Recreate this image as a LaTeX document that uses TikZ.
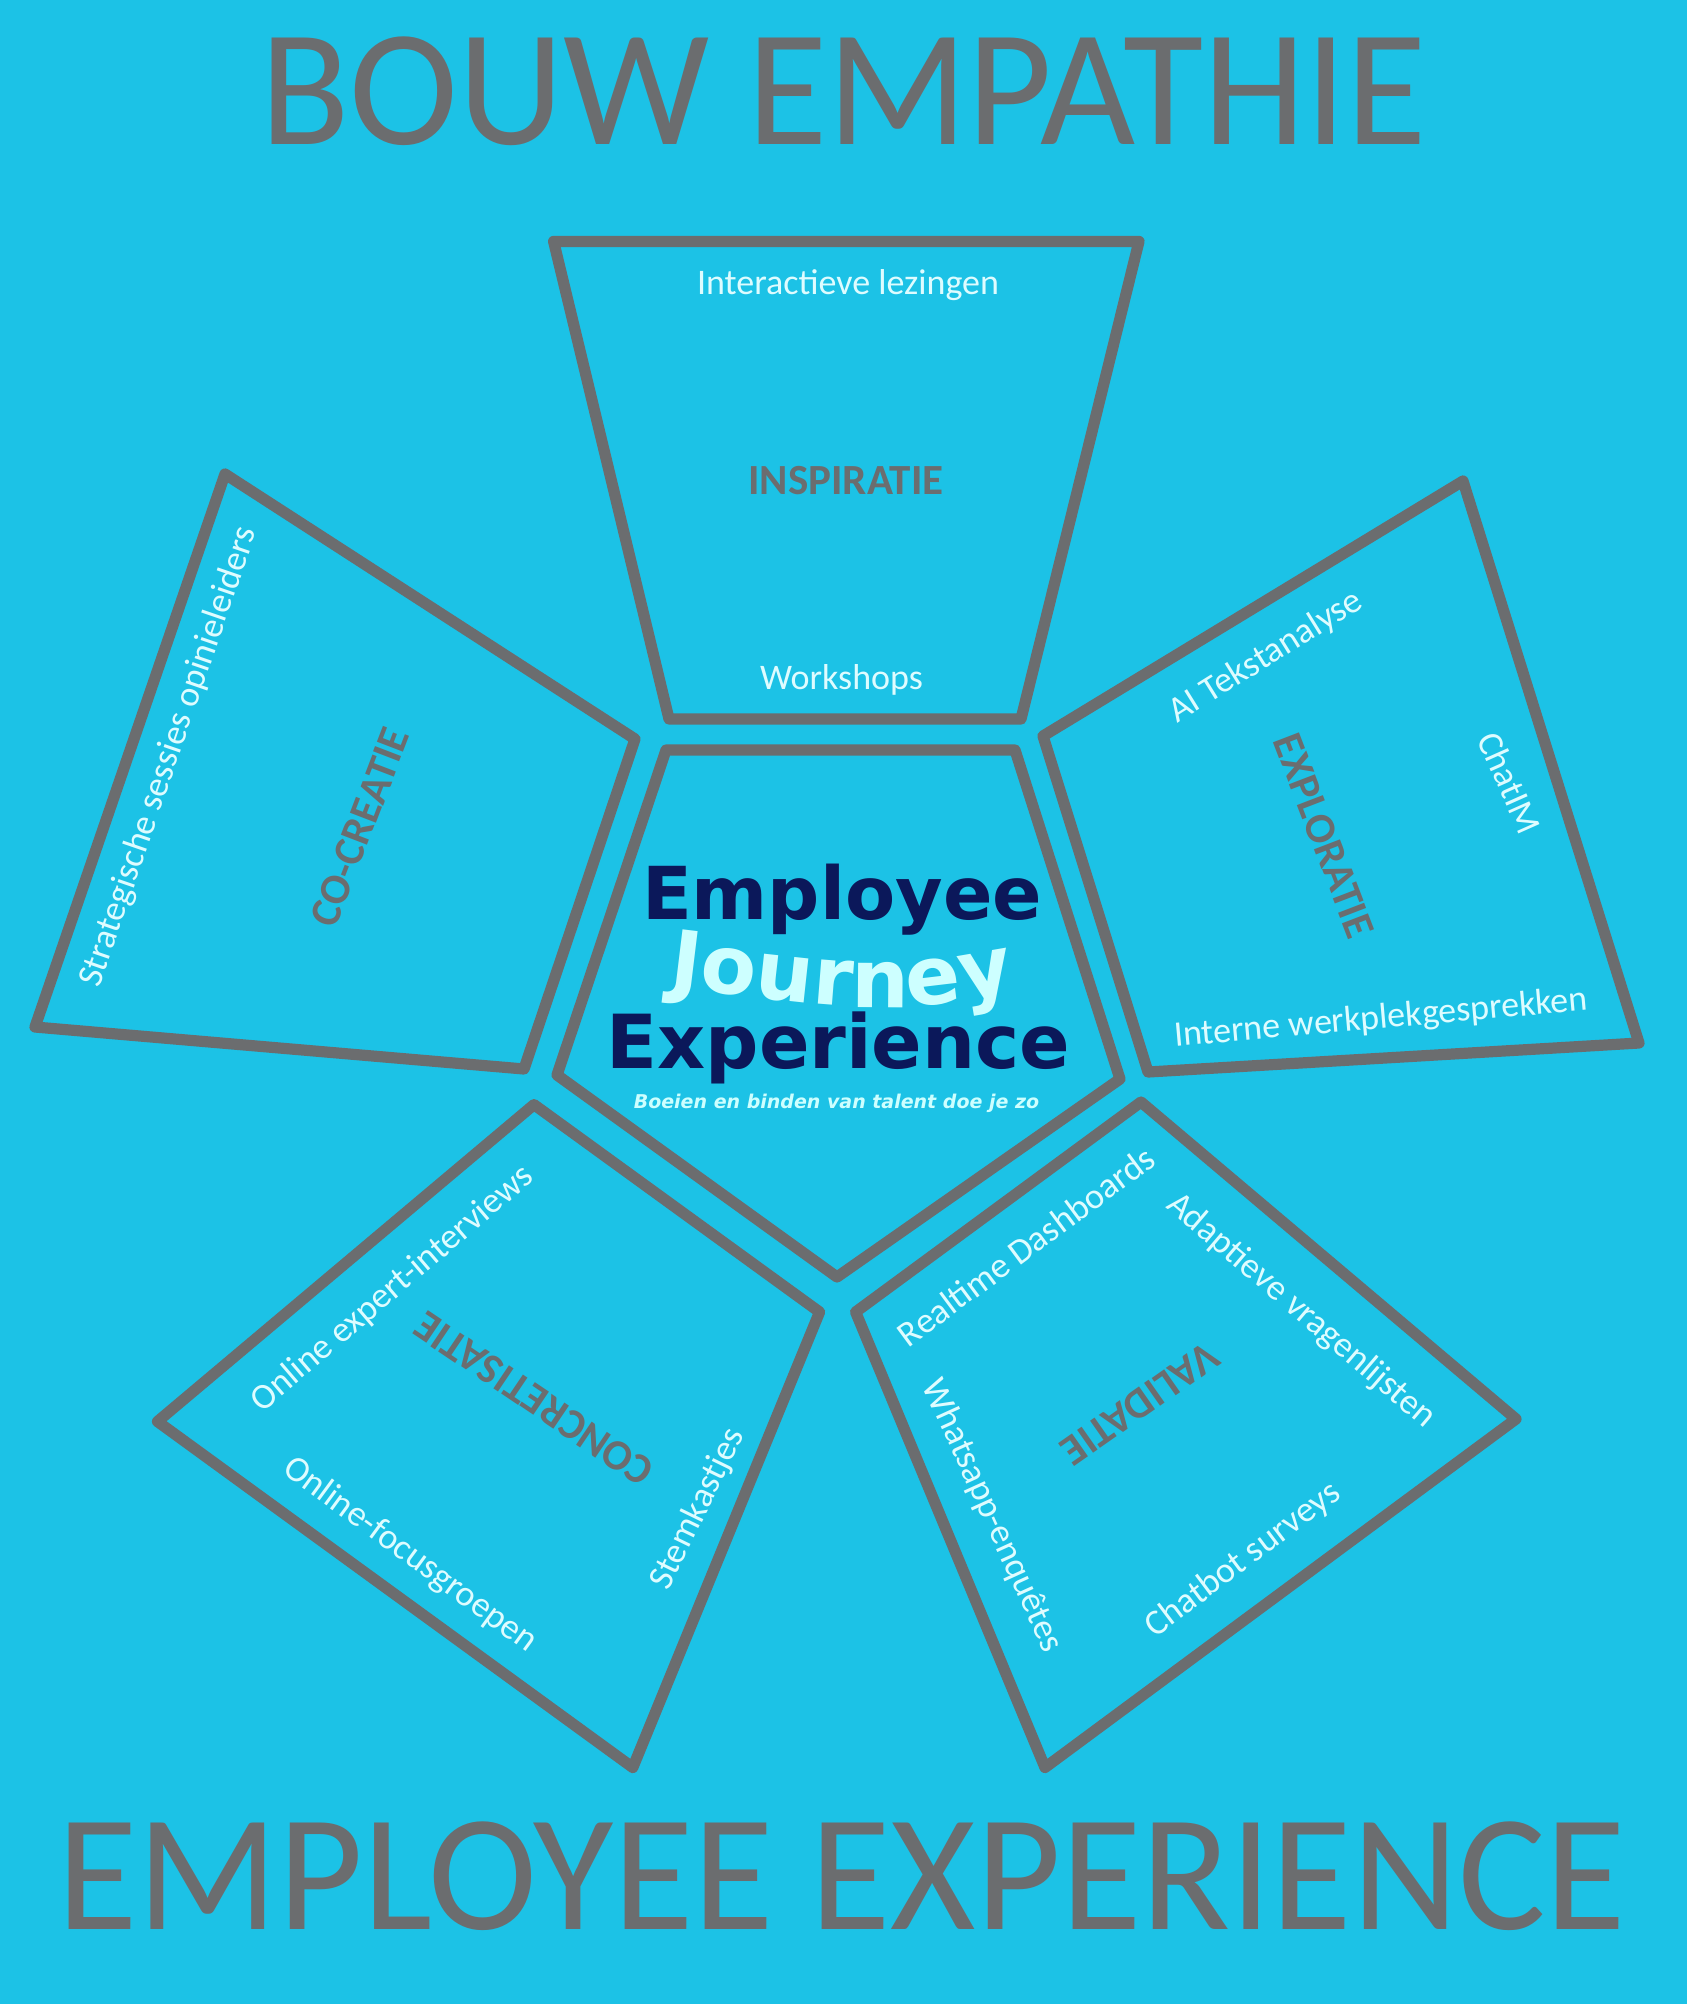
\documentclass[tikz,border=0pt]{standalone}
\usepackage{fontspec}
\usetikzlibrary{decorations.text}
\newfontfamily\calfont{Carlito}
\newfontfamily\dvfont{DejaVu Sans}
\definecolor{bgblue}{RGB}{28,194,230}
\definecolor{lgrey}{RGB}{107,109,111}
\definecolor{navy}{RGB}{11,24,90}
\definecolor{jcyan}{RGB}{205,255,255}
\definecolor{wtext}{RGB}{222,252,255}
\begin{document}
\begin{tikzpicture}[x=0.5pt,y=-0.5pt,
  panel/.style={draw=lgrey, line width=5.6pt, line join=round},
  item/.style={text=wtext, font=\calfont\fontsize{18}{20}\selectfont, inner sep=0pt},
  phase/.style={text=lgrey, font=\calfont\bfseries\fontsize{21.5}{24}\selectfont, inner sep=0pt},
  bigtitle/.style={text=lgrey, font=\calfont\fontsize{83}{90}\selectfont, inner sep=0pt, anchor=base},
  core/.style={text=navy, font=\dvfont\bfseries\fontsize{36.5}{40}\selectfont, inner sep=0pt, anchor=base}]
\fill[bgblue] (0,0) rectangle (1687,2004);
\useasboundingbox (0,0) rectangle (1687,2004);

% titles
\node[bigtitle, xscale=0.99] (t1) at (843.5,144) {BOUW EMPATHIE};
\node[bigtitle, xscale=0.99] (t2) at (842,1929) {EMPLOYEE EXPERIENCE};

% panels
\draw[panel] (553.6,241.4) -- (1139,241.4) -- (1021,719) -- (669,719) -- cycle;
\draw[panel] (225,474) -- (635,739) -- (524,1069) -- (35,1027) -- cycle;
\draw[panel] (1463,481) -- (1639,1043) -- (1148,1072) -- (1043,736) -- cycle;
\draw[panel] (534,1104.6) -- (819.6,1312) -- (632.8,1767.5) -- (157.5,1421.5) -- cycle;
\draw[panel] (1141,1102) -- (1516,1419) -- (1045,1767.5) -- (855.6,1312) -- cycle;
\draw[panel] (666,750) -- (1015,750) -- (1120,1079) -- (837,1277) -- (557,1075) -- cycle;

% INSPIRATIE
\node[item] (i1) at (848,285) {Interactieve lezingen};
\node[phase] (p1) at (846,481) {INSPIRATIE};
\node[item] (i2) at (841.5,680) {Workshops};

% CO-CREATIE
\node[item, rotate=71] (c1) at (169,757) {Strategische sessies opinieleiders};
\node[phase, rotate=69] (p2) at (360,827) {CO-CREATIE};

% EXPLORATIE
\node[item, rotate=32] (e1) at (1266,657) {AI Tekstanalyse};
\node[phase, rotate=-69] (p3) at (1324,836) {EXPLORATIE};
\node[item, rotate=-66] (e2) at (1510,783) {ChatIM};
\node[item, rotate=5] (e3) at (1381,1019) {Interne werkplekgesprekken};

% CONCRETISATIE
\node[item, rotate=40.5] (k1) at (392.6,1289) {Online expert-interviews};
\node[item, rotate=-36.3] (k2) at (410,1555) {Online-focusgroepen};
\node[phase, rotate=146] (p4) at (534,1399) {CONCRETISATIE};
\node[item, rotate=64] (k3) at (698,1509) {Stemkastjes};

% VALIDATIE
\node[item, rotate=36.5] (v1) at (1026,1246) {Realtime Dashboards};
\node[item, rotate=-40.5] (v2) at (1301,1311) {Adaptieve vragenlijsten};
\node[item, rotate=-65.5] (v3) at (992,1516) {Whatsapp-enquêtes};
\node[item, rotate=37] (v4) at (1243,1560) {Chatbot surveys};
\node[phase, rotate=-145] (p5) at (1140,1403.7) {VALIDATIE};

% centre
\node[core] (m1) at (842,919) {Employee};
\path[decorate, decoration={text along path, text align=center,
  text={|\dvfont\bfseries\fontsize{40.5}{44}\selectfont\color{jcyan}|Journey}}]
  (660,986) .. controls (890,1014) .. (1024,990);
\node[core, font=\dvfont\bfseries\fontsize{37.3}{40}\selectfont] (m3) at (838.5,1068) {Experience};
\node[text=jcyan, font=\dvfont\bfseries\itshape\fontsize{9.5}{11}\selectfont, inner sep=0pt, anchor=base] (tag) at (836.5,1108) {Boeien en binden van talent doe je zo};
\end{tikzpicture}
\end{document}
